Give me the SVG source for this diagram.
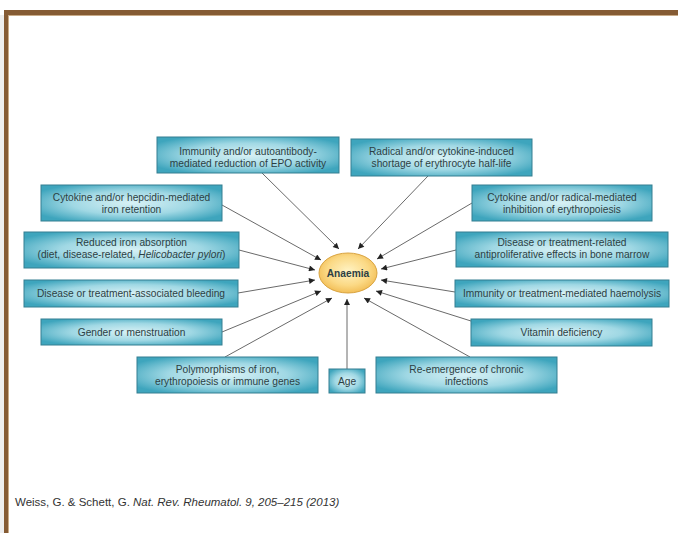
<svg xmlns="http://www.w3.org/2000/svg" width="678" height="533" viewBox="0 0 678 533">
<defs>
<radialGradient id="boxg" cx="0.5" cy="0.5" r="0.6">
<stop offset="0" stop-color="#d8f1f5"/>
<stop offset="0.55" stop-color="#a0d8e4"/>
<stop offset="1" stop-color="#3ea5bd"/>
</radialGradient>
<radialGradient id="ellg" cx="0.5" cy="0.45" r="0.6">
<stop offset="0" stop-color="#fff3c4"/>
<stop offset="0.6" stop-color="#fbd985"/>
<stop offset="1" stop-color="#f0b84c"/>
</radialGradient>
<marker id="arr" viewBox="0 0 10 10" refX="10" refY="5" markerWidth="7" markerHeight="6" markerUnits="userSpaceOnUse" orient="auto">
<path d="M0,0 L10,5 L0,10 z" fill="#222"/>
</marker>
</defs>
<style>
.box{fill:url(#boxg);stroke:#357f91;stroke-width:1}
.t{font-family:"Liberation Sans",Arial,sans-serif;font-size:10.2px;fill:#2c3f44;text-anchor:middle}
.c{stroke:#6a6a6a;stroke-width:1;fill:none;marker-end:url(#arr)}
</style>
<rect x="0" y="0" width="678" height="533" fill="#ffffff"/>
<rect x="0" y="15" width="4" height="518" fill="#eeeeee"/>
<rect x="4" y="10" width="674" height="5" fill="#855b34"/>
<rect x="4" y="10" width="4" height="523" fill="#855b34"/>
<rect x="8" y="15" width="670" height="1" fill="#c9ab88"/>
<rect x="8" y="15" width="1" height="518" fill="#c9ab88"/>

<g id="connectors">
<line class="c" x1="262" y1="173" x2="339" y2="249"/>
<line class="c" x1="428" y1="176" x2="358" y2="249"/>
<line class="c" x1="222" y1="205" x2="321" y2="260"/>
<line class="c" x1="239" y1="250" x2="315" y2="270"/>
<line class="c" x1="238" y1="293" x2="315" y2="280"/>
<line class="c" x1="222" y1="332" x2="321" y2="291"/>
<line class="c" x1="225" y1="357" x2="332" y2="298"/>
<line class="c" x1="347" y1="369" x2="347" y2="299"/>
<line class="c" x1="470" y1="357" x2="364" y2="298"/>
<line class="c" x1="472" y1="203" x2="377" y2="259"/>
<line class="c" x1="456" y1="250" x2="381" y2="269"/>
<line class="c" x1="455" y1="292" x2="381" y2="280"/>
<line class="c" x1="471" y1="321" x2="376" y2="291"/>
</g>

<g id="n1"><rect class="box" x="157" y="137" width="182" height="36"/>
<text class="t" x="248" y="155">Immunity and/or autoantibody-</text>
<text class="t" x="248" y="166.5">mediated reduction of EPO activity</text></g>

<g id="n2"><rect class="box" x="351" y="139" width="181" height="37"/>
<text class="t" x="441.5" y="155">Radical and/or cytokine-induced</text>
<text class="t" x="441.5" y="166.5">shortage of erythrocyte half-life</text></g>

<g id="n3"><rect class="box" x="41" y="185" width="181" height="36"/>
<text class="t" x="131.5" y="201">Cytokine and/or hepcidin-mediated</text>
<text class="t" x="131.5" y="212.5">iron retention</text></g>

<g id="n4"><rect class="box" x="24" y="232" width="215" height="36"/>
<text class="t" x="131.5" y="246">Reduced iron absorption</text>
<text class="t" x="131.5" y="257.5">(diet, disease-related, <tspan font-style="italic">Helicobacter pylori</tspan>)</text></g>

<g id="n5"><rect class="box" x="24" y="280" width="214" height="27"/>
<text class="t" x="131" y="297">Disease or treatment-associated bleeding</text></g>

<g id="n6"><rect class="box" x="41" y="319" width="181" height="26"/>
<text class="t" x="131.5" y="335.5">Gender or menstruation</text></g>

<g id="n7"><rect class="box" x="137" y="357" width="181" height="36"/>
<text class="t" x="227.5" y="373">Polymorphisms of iron,</text>
<text class="t" x="227.5" y="384.5">erythropoiesis or immune genes</text></g>

<g id="n8"><rect class="box" x="329" y="369" width="36" height="24"/>
<text class="t" x="347" y="384.5">Age</text></g>

<g id="n9"><rect class="box" x="376" y="357" width="181" height="36"/>
<text class="t" x="466.5" y="373">Re-emergence of chronic</text>
<text class="t" x="466.5" y="384.5">infections</text></g>

<g id="n10"><rect class="box" x="472" y="185" width="180" height="36"/>
<text class="t" x="562" y="201">Cytokine and/or radical-mediated</text>
<text class="t" x="562" y="212.5">inhibition of erythropoiesis</text></g>

<g id="n11"><rect class="box" x="456" y="232" width="212" height="35"/>
<text class="t" x="562" y="246">Disease or treatment-related</text>
<text class="t" x="562" y="258">antiproliferative effects in bone marrow</text></g>

<g id="n12"><rect class="box" x="455" y="280" width="214" height="27"/>
<text class="t" x="562" y="297">Immunity or treatment-mediated haemolysis</text></g>

<g id="n13"><rect class="box" x="471" y="319" width="181" height="27"/>
<text class="t" x="561.5" y="335.5">Vitamin deficiency</text></g>

<g id="center"><ellipse cx="348" cy="273" rx="29" ry="20" fill="url(#ellg)" stroke="#d9a441" stroke-width="1"/>
<text class="t" x="348" y="276.5" font-weight="bold" fill="#3a3a3a" font-size="9.5">Anaemia</text></g>

<text x="15" y="506" font-family="'Liberation Sans',Arial,sans-serif" font-size="11.5" fill="#333">Weiss, G. &amp; Schett, G. <tspan font-style="italic">Nat. Rev. Rheumatol. 9, 205–215 (2013)</tspan></text>
</svg>
